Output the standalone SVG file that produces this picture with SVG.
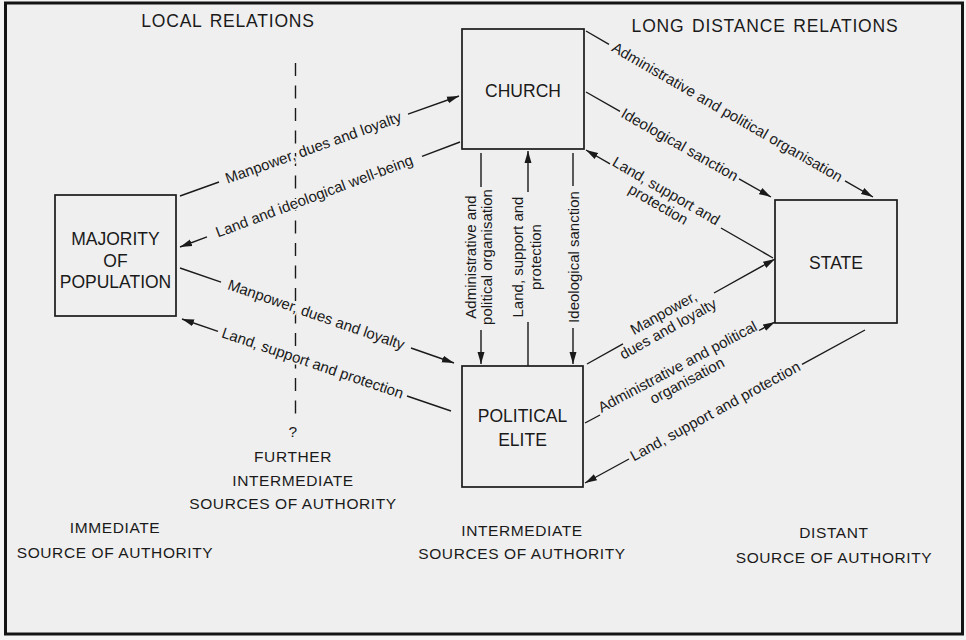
<svg xmlns="http://www.w3.org/2000/svg" width="966" height="640" viewBox="0 0 966 640">
<defs>
<style>
.ln{stroke:#1a1a1a;stroke-width:1.4;fill:none}
.box{fill:none;stroke:#1a1a1a;stroke-width:1.7}
text{font-family:"Liberation Sans",Arial,Helvetica,sans-serif;fill:#1a1a1a}
.lbl{font-size:15px}
.halo{stroke:#efefef;stroke-width:3.5px;paint-order:stroke;stroke-linejoin:round}
.node{font-size:17.5px;text-anchor:middle}
.hdr{font-size:17.5px;letter-spacing:0.8px;word-spacing:2px;text-anchor:middle}
.cap{font-size:15.5px;letter-spacing:0.6px;text-anchor:middle}
.mid{text-anchor:middle}
</style>
<marker id="ah" markerWidth="13" markerHeight="8" refX="12" refY="4" orient="auto" markerUnits="userSpaceOnUse">
<path d="M0,0.5 L12,4 L0,7.5 z" fill="#1a1a1a"/>
</marker>
</defs>
<rect x="0" y="0" width="966" height="640" fill="#f4f4f4"/>
<rect id="frame" x="5.5" y="3" width="957" height="631" fill="#efefef" stroke="#141414" stroke-width="3"/>

<text class="hdr" x="228" y="27">LOCAL RELATIONS</text>
<text class="hdr" x="765" y="32">LONG DISTANCE RELATIONS</text>

<line class="ln" x1="295.5" y1="63" x2="295.5" y2="414" stroke-dasharray="13 9.5"/>

<g id="majority">
<rect class="box" x="55" y="195" width="121" height="121"/>
<text class="node" x="115.5" y="245">MAJORITY</text>
<text class="node" x="115.5" y="267">OF</text>
<text class="node" x="115.5" y="288">POPULATION</text>
</g>
<g id="church">
<rect class="box" x="462" y="29" width="122" height="120"/>
<text class="node" x="523" y="97">CHURCH</text>
</g>
<g id="state">
<rect class="box" x="775" y="200" width="122" height="123"/>
<text class="node" x="836" y="269">STATE</text>
</g>
<g id="elite">
<rect class="box" x="462" y="366" width="121" height="121"/>
<text class="node" x="522.5" y="422">POLITICAL</text>
<text class="node" x="522.5" y="446">ELITE</text>
</g>

<g id="connectors">
<g id="c1">
<path class="ln" d="M180,196 L219,182 M408,114.2 L459,96" marker-end="url(#ah)"/>
<text class="lbl mid halo" transform="translate(313.5,148.2) rotate(-19.7)" y="4.5">Manpower, dues and loyalty</text>
</g>
<g id="c2">
<path class="ln" d="M460,142 L422,156.3 M207,236.9 L180,247" marker-end="url(#ah)"/>
<text class="lbl mid halo" transform="translate(314.5,196.6) rotate(-20.56)" y="4.5">Land and ideological well-being</text>
</g>
<g id="c3">
<path class="ln" d="M180,268 L221,282.2 M411,348 L454,363" marker-end="url(#ah)"/>
<text class="lbl mid halo" transform="translate(316,315.2) rotate(19.12)" y="4.5">Manpower, dues and loyalty</text>
</g>
<g id="c4">
<path class="ln" d="M451,411 L407,396 M218,331.3 L182,319" marker-end="url(#ah)"/>
<text class="lbl mid halo" transform="translate(312.5,363.6) rotate(18.88)" y="4.5">Land, support and protection</text>
</g>
<g id="v1">
<path class="ln" d="M481,153 L481,187 M481,330 L481,364" marker-end="url(#ah)"/>
<text class="lbl mid" transform="translate(481,257) rotate(-90)"><tspan x="0" y="-5.5">Administrative and</tspan><tspan x="0" y="11">political organisation</tspan></text>
</g>
<g id="v2">
<path class="ln" d="M528,366 L528,322 M528,192 L528,151" marker-end="url(#ah)"/>
<text class="lbl mid" transform="translate(528,257) rotate(-90)"><tspan x="0" y="-5">Land, support and</tspan><tspan x="0" y="13">protection</tspan></text>
</g>
<g id="v3">
<path class="ln" d="M573,153 L573,186 M573,328 L573,364" marker-end="url(#ah)"/>
<text class="lbl mid" transform="translate(573,257) rotate(-90)" y="5.5">Ideological sanction</text>
</g>
<g id="c5">
<path class="ln" d="M586,31 L609,44.3 M845,180.9 L873,197" marker-end="url(#ah)"/>
<text class="lbl mid" transform="translate(727,112.6) rotate(30.04)" y="4.5">Administrative and political organisation</text>
</g>
<g id="c6">
<path class="ln" d="M586,92 L620,111.3 M739,178.8 L771,197" marker-end="url(#ah)"/>
<text class="lbl mid" transform="translate(679.5,145.1) rotate(29.58)" y="4.5">Ideological sanction</text>
</g>
<g id="c7">
<path class="ln" d="M773,258 L721,228 M610,163.9 L586,150" marker-end="url(#ah)"/>
<text class="lbl mid" transform="translate(663.8,194.9) rotate(30)"><tspan x="0" y="0.5">Land, support and</tspan><tspan x="0" y="16">protection</tspan></text>
</g>
<g id="c8">
<path class="ln" d="M587,364 L623,343.9 M714,293 L775,259" marker-end="url(#ah)"/>
<text class="lbl mid" transform="translate(668,318.7) rotate(-29.18)"><tspan x="-1" y="-2.2">Manpower,</tspan><tspan x="-5" y="14">dues and loyalty</tspan></text>
</g>
<g id="c9">
<path class="ln" d="M585,423 L600,415 M759,330.5 L775,322" marker-end="url(#ah)"/>
<text class="lbl mid" transform="translate(679.5,372.8) rotate(-28)"><tspan x="1" y="-1.2">Administrative and political</tspan><tspan x="3" y="15.5">organisation</tspan></text>
</g>
<g id="c10">
<path class="ln" d="M865,330 L802,364.4 M629,459 L585,483" marker-end="url(#ah)"/>
<text class="lbl mid" transform="translate(715.5,411.7) rotate(-28.65)" y="4.5">Land, support and protection</text>
</g>
</g>

<text class="cap" x="293" y="437">?</text>
<text class="cap" x="293" y="462">FURTHER</text>
<text class="cap" x="293" y="486">INTERMEDIATE</text>
<text class="cap" x="293" y="509">SOURCES OF AUTHORITY</text>

<text class="cap" x="115" y="533">IMMEDIATE</text>
<text class="cap" x="115" y="558">SOURCE OF AUTHORITY</text>

<text class="cap" x="522" y="536">INTERMEDIATE</text>
<text class="cap" x="522" y="559">SOURCES OF AUTHORITY</text>

<text class="cap" x="834" y="538">DISTANT</text>
<text class="cap" x="834" y="563">SOURCE OF AUTHORITY</text>
</svg>
